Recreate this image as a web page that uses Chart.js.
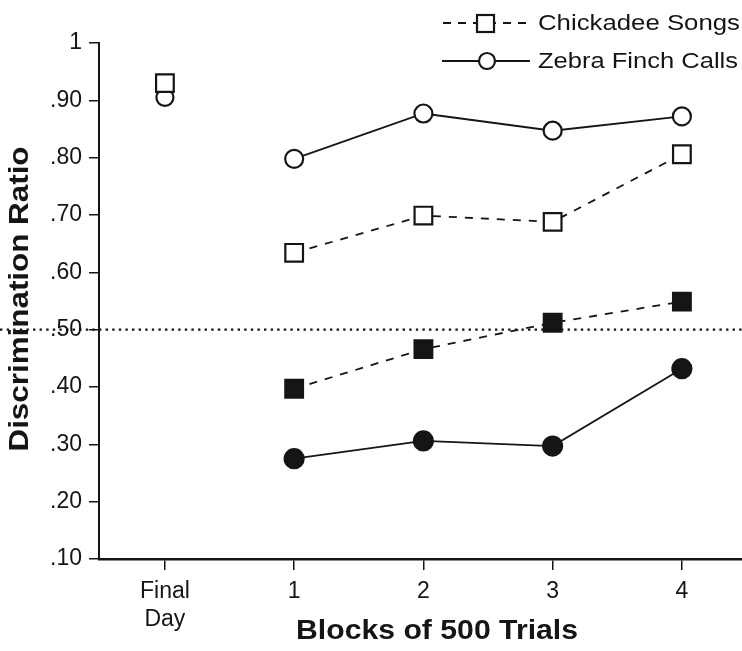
<!DOCTYPE html>
<html lang="en">
<head>
<meta charset="UTF-8">
<title>Discrimination Ratio</title>
<script src="https://cdn.jsdelivr.net/npm/chart.js@4.4.1/dist/chart.umd.min.js"></script>
<style>
  html, body { margin: 0; padding: 0; background: #fff; }
  #wrap { width: 742px; height: 651px; }
</style>
</head>
<body>
<div id="wrap"><canvas id="c" width="742" height="651"></canvas></div>
<script>
// data
const blocks = [1, 2, 3, 4];
const finalDay = [0];
const chickadeeOpen = [0.634, 0.699, 0.688, 0.806];
const zebraOpen = [0.798, 0.877, 0.847, 0.872];
const chickadeeFilled = [0.397, 0.466, 0.512, 0.549];
const zebraFilled = [0.275, 0.306, 0.297, 0.432];
const chickadeeFinal = [0.930];
const zebraFinal = [0.905];
const chanceLevel = 0.5;

const xTicks = [0, 1, 2, 3, 4];
const xTickLabels = [['Final', 'Day'], '1', '2', '3', '4'];
const yTicks = [0.1, 0.2, 0.3, 0.4, 0.5, 0.6, 0.7, 0.8, 0.9, 1.0];
const yTickLabels = ['.10', '.20', '.30', '.40', '.50', '.60', '.70', '.80', '.90', '1'];

const legendNames = ['Chickadee Songs', 'Zebra Finch Calls'];
const xTitle = 'Blocks of 500 Trials';
const yTitle = 'Discrimination Ratio';

const INK = '#151515';
const FONT = '"Liberation Sans", Arial, Helvetica, sans-serif';

const pts = (xs, ys) => xs.map((x, i) => ({ x: x, y: ys[i] }));

function series(xs, ys, opts) {
  return Object.assign({
    data: pts(xs, ys),
    borderColor: INK,
    borderWidth: 1.8,
    pointBorderColor: INK,
    pointBorderWidth: 2.2,
    pointHoverRadius: 0,
    tension: 0,
    fill: false
  }, opts);
}

// draw text squeezed/stretched to a target width
function stretchText(ctx, text, x, y, font, width, align) {
  ctx.save();
  ctx.font = font;
  const w = ctx.measureText(text).width;
  ctx.translate(x, y);
  ctx.scale(width / w, 1);
  ctx.textAlign = align || 'left';
  ctx.fillText(text, 0, 0);
  ctx.restore();
}

const extras = {
  id: 'extras',
  beforeDatasetsDraw(chart) {
    // chance line, dotted across the whole width
    const ctx = chart.ctx;
    const y = chart.scales.y.getPixelForValue(chanceLevel);
    ctx.save();
    ctx.strokeStyle = INK;
    ctx.lineWidth = 2.4;
    ctx.setLineDash([2.4, 4.2]);
    ctx.beginPath();
    ctx.moveTo(0, y);
    ctx.lineTo(chart.width, y);
    ctx.stroke();
    ctx.restore();
  },
  afterDraw(chart) {
    const ctx = chart.ctx;
    ctx.save();
    ctx.fillStyle = INK;
    ctx.strokeStyle = INK;

    // y title, rotated
    ctx.save();
    ctx.translate(28, 299);
    ctx.rotate(-Math.PI / 2);
    ctx.textBaseline = 'alphabetic';
    stretchText(ctx, yTitle, 0, 0, 'bold 27px ' + FONT, 305, 'center');
    ctx.restore();

    // x title
    ctx.textBaseline = 'alphabetic';
    stretchText(ctx, xTitle, 437, 639, 'bold 28px ' + FONT, 282, 'center');

    // legend
    ctx.lineWidth = 1.8;
    ctx.textBaseline = 'middle';
    ctx.setLineDash([8, 7]);
    ctx.beginPath();
    ctx.moveTo(443, 23);
    ctx.lineTo(533, 23);
    ctx.stroke();
    ctx.setLineDash([]);
    ctx.beginPath();
    ctx.moveTo(442, 61);
    ctx.lineTo(530, 61);
    ctx.stroke();
    ctx.lineWidth = 2.2;
    ctx.fillStyle = '#fff';
    ctx.fillRect(477, 15, 17, 17);
    ctx.strokeRect(477, 15, 17, 17);
    ctx.beginPath();
    ctx.arc(487, 61, 8, 0, Math.PI * 2);
    ctx.fill();
    ctx.stroke();
    ctx.fillStyle = INK;
    stretchText(ctx, legendNames[0], 538, 24, '22px ' + FONT, 202);
    stretchText(ctx, legendNames[1], 538, 62, '22px ' + FONT, 200);
    ctx.restore();
  }
};

new Chart(document.getElementById('c'), {
  type: 'line',
  data: {
    datasets: [
      series(finalDay, chickadeeFinal, { showLine: false, pointStyle: 'rect', pointRadius: 12.5, pointBackgroundColor: '#fff' }),
      series(finalDay, zebraFinal, { showLine: false, pointStyle: 'circle', pointRadius: 8.5, pointBackgroundColor: '#fff' }),
      series(blocks, chickadeeOpen, { borderDash: [8, 8], pointStyle: 'rect', pointRadius: 12.5, pointBackgroundColor: '#fff' }),
      series(blocks, zebraOpen, { pointStyle: 'circle', pointRadius: 9, pointBackgroundColor: '#fff' }),
      series(blocks, chickadeeFilled, { borderDash: [8, 8], pointStyle: 'rect', pointRadius: 12.5, pointBackgroundColor: INK }),
      series(blocks, zebraFilled, { pointStyle: 'circle', pointRadius: 9.5, pointBackgroundColor: INK })
    ]
  },
  options: {
    responsive: false,
    animation: false,
    devicePixelRatio: 1,
    events: [],
    layout: { autoPadding: false, padding: { top: 43, left: 0, right: 0, bottom: 0 } },
    plugins: { legend: { display: false }, tooltip: { enabled: false } },
    scales: {
      x: {
        type: 'linear',
        min: -0.51,
        max: 4.465,
        afterBuildTicks: s => { s.ticks = xTicks.map(v => ({ value: v })); },
        afterFit: s => { s.height = 92; },
        ticks: {
          autoSkip: false,
          maxRotation: 0,
          padding: 8,
          color: INK,
          font: { family: FONT, size: 23, lineHeight: 1.2 },
          callback: (v, i) => xTickLabels[i]
        },
        grid: { drawOnChartArea: false, drawTicks: true, tickLength: 11, color: INK, lineWidth: 1.5 },
        border: { display: true, color: INK, width: 2.5 }
      },
      y: {
        type: 'linear',
        min: 0.1,
        max: 1.0,
        afterBuildTicks: s => { s.ticks = yTicks.map(v => ({ value: v })); },
        afterFit: s => { s.width = 99; },
        ticks: {
          padding: 7,
          color: INK,
          font: { family: FONT, size: 23 },
          callback: (v, i) => yTickLabels[i]
        },
        grid: { drawOnChartArea: false, drawTicks: true, tickLength: 10, color: INK, lineWidth: 1.5 },
        border: { display: true, color: INK, width: 2 }
      }
    }
  },
  plugins: [extras]
});
</script>
</body>
</html>
